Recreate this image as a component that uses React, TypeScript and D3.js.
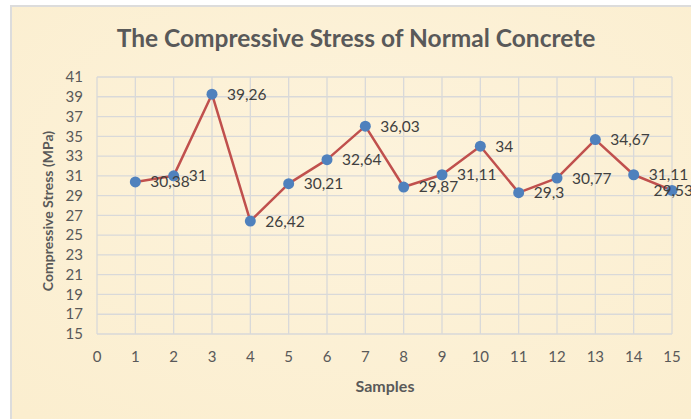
import React from 'react';
import * as d3 from 'd3';

const samples = [1, 2, 3, 4, 5, 6, 7, 8, 9, 10, 11, 12, 13, 14, 15];
const stress = [30.38, 31, 39.26, 26.42, 30.21, 32.64, 36.03, 29.87, 31.11, 34, 29.3, 30.77, 34.67, 31.11, 29.53];
const xTicks = d3.range(0, 16);
const yTicks = d3.range(15, 42, 2);

const W = 691;
const H = 419;
const font = "Lato, 'Open Sans', sans-serif";

const App: React.FC = () => {
  const x = d3.scaleLinear().domain([0, 15]).range([97, 672]);
  const y = d3.scaleLinear().domain([15, 41]).range([334, 77]);

  const line = d3.line<number>()
    .x((_, i) => x(samples[i]))
    .y(d => y(d));

  const fmt = (v: number) => String(v).replace('.', ',');

  // Excel pushes labels back inside the chart area when they would overflow
  const labelPos = (v: number, i: number) => {
    const lx = x(samples[i]) + 15;
    const w = fmt(v).length * 7.6;
    return lx + w > 693 ? { x: 693, anchor: 'end' } : { x: lx, anchor: 'start' };
  };

  return (
    <svg width={W} height={H} style={{ position: 'absolute', left: 0, top: 0 }}>
      <defs>
        <radialGradient id="paper" cx="50%" cy="40%" r="75%">
          <stop offset="0%" stopColor="#fdf3dc" />
          <stop offset="100%" stopColor="#fbeecf" />
        </radialGradient>
      </defs>
      <rect x={0} y={0} width={W} height={H} fill="#ffffff" />
      <rect x={11} y={6} width={W} height={H} fill="url(#paper)" stroke="#dcdcdc" strokeWidth={2} />

      <text x={356} y={47} textAnchor="middle" fontFamily={font} fontWeight="bold"
        fontSize={24.5} fill="#595959">The Compressive Stress of Normal Concrete</text>

      {/* grid */}
      {xTicks.map(t => (
        <line key={'gx' + t} x1={x(t)} x2={x(t)} y1={y(41)} y2={y(15)} stroke="#d9d9d9" strokeWidth={1.3} />
      ))}
      {yTicks.map(t => (
        <line key={'gy' + t} x1={x(0)} x2={x(15)} y1={y(t)} y2={y(t)} stroke="#d9d9d9" strokeWidth={1.3} />
      ))}

      {yTicks.map(t => (
        <text key={'ly' + t} x={83} y={y(t)} dy="0.35em" textAnchor="end" fontFamily={font}
          fontSize={15} fill="#595959">{t}</text>
      ))}
      {xTicks.map(t => (
        <text key={'lx' + t} x={x(t)} y={357} dy="0.35em" textAnchor="middle" fontFamily={font}
          fontSize={15} fill="#595959">{t}</text>
      ))}

      <text x={385} y={392} textAnchor="middle" fontFamily={font} fontWeight="bold"
        fontSize={16} fill="#595959">Samples</text>
      <text transform="translate(53,211) rotate(-90)" textAnchor="middle" fontFamily={font}
        fontWeight="bold" fontSize={14} fill="#595959">Compressive Stress (MPa)</text>

      <path d={line(stress) || ''} fill="none" stroke="#c0504d" strokeWidth={2.5} strokeLinejoin="round" />
      {stress.map((v, i) => (
        <circle key={'p' + i} cx={x(samples[i])} cy={y(v)} r={5.5} fill="#4f81bd" />
      ))}
      {stress.map((v, i) => {
        const p = labelPos(v, i);
        return (
          <text key={'t' + i} x={p.x} y={y(v)} dy="0.35em" textAnchor={p.anchor} fontFamily={font}
            fontSize={15.5} fill="#404040">{fmt(v)}</text>
        );
      })}
    </svg>
  );
};

export default App;
